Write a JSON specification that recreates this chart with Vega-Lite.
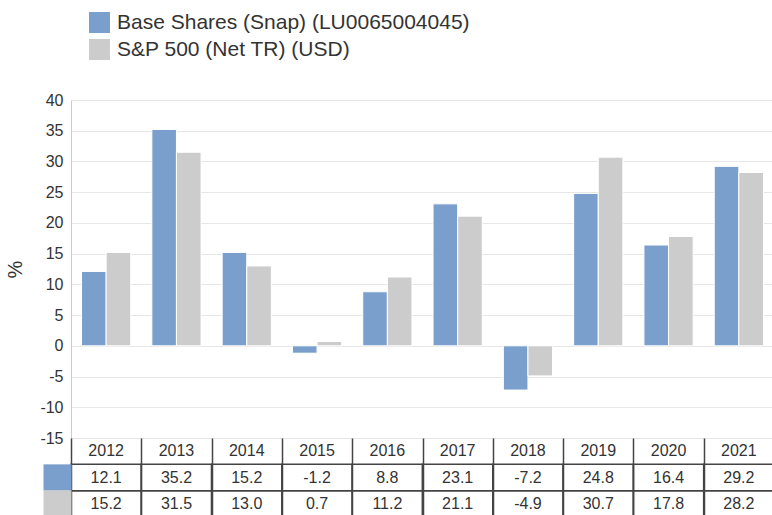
{
  "$schema": "https://vega.github.io/schema/vega-lite/v6.json",
  "padding": {"left": 5, "top": 12, "right": 0, "bottom": 0},
  "background": "white",
  "config": {
    "font": "Liberation Sans",
    "view": {"stroke": null},
    "locale": {"number": {"decimal": ".", "thousands": ",", "grouping": [3], "currency": ["$", ""], "minus": "-"}}
  },
  "spacing": 0,
  "bounds": "flush",
  "resolve": {"scale": {"x": "independent", "y": "independent"}},
  "data": {"values": [
    {"year": "2012", "series": "Base Shares (Snap) (LU0065004045)", "value": 12.1},
    {"year": "2012", "series": "S&P 500 (Net TR) (USD)", "value": 15.2},
    {"year": "2013", "series": "Base Shares (Snap) (LU0065004045)", "value": 35.2},
    {"year": "2013", "series": "S&P 500 (Net TR) (USD)", "value": 31.5},
    {"year": "2014", "series": "Base Shares (Snap) (LU0065004045)", "value": 15.2},
    {"year": "2014", "series": "S&P 500 (Net TR) (USD)", "value": 13.0},
    {"year": "2015", "series": "Base Shares (Snap) (LU0065004045)", "value": -1.2},
    {"year": "2015", "series": "S&P 500 (Net TR) (USD)", "value": 0.7},
    {"year": "2016", "series": "Base Shares (Snap) (LU0065004045)", "value": 8.8},
    {"year": "2016", "series": "S&P 500 (Net TR) (USD)", "value": 11.2},
    {"year": "2017", "series": "Base Shares (Snap) (LU0065004045)", "value": 23.1},
    {"year": "2017", "series": "S&P 500 (Net TR) (USD)", "value": 21.1},
    {"year": "2018", "series": "Base Shares (Snap) (LU0065004045)", "value": -7.2},
    {"year": "2018", "series": "S&P 500 (Net TR) (USD)", "value": -4.9},
    {"year": "2019", "series": "Base Shares (Snap) (LU0065004045)", "value": 24.8},
    {"year": "2019", "series": "S&P 500 (Net TR) (USD)", "value": 30.7},
    {"year": "2020", "series": "Base Shares (Snap) (LU0065004045)", "value": 16.4},
    {"year": "2020", "series": "S&P 500 (Net TR) (USD)", "value": 17.8},
    {"year": "2021", "series": "Base Shares (Snap) (LU0065004045)", "value": 29.2},
    {"year": "2021", "series": "S&P 500 (Net TR) (USD)", "value": 28.2}
  ]},
  "vconcat": [
    {
      "width": 703,
      "height": 338,
      "mark": {"type": "bar", "stroke": "white", "strokeWidth": 1},
      "encoding": {
        "x": {"field": "year", "type": "nominal", "axis": null, "scale": {"paddingInner": 0.3, "paddingOuter": 0.15}},
        "xOffset": {"field": "series", "type": "nominal", "scale": {"domain": ["Base Shares (Snap) (LU0065004045)", "S&P 500 (Net TR) (USD)"], "paddingInner": 0, "paddingOuter": 0}},
        "y": {
          "field": "value", "type": "quantitative",
          "scale": {"domain": [-15, 40], "nice": false, "zero": false},
          "axis": {
            "values": [-15, -10, -5, 0, 5, 10, 15, 20, 25, 30, 35, 40],
            "title": "%", "titleFontSize": 20, "titleFontWeight": "normal", "titleColor": "#333", "titlePadding": 14,
            "labelFontSize": 16, "labelColor": "#333", "labelPadding": 8, "tickSize": 0,
            "domainColor": "#cccccc", "gridColor": "#e6e6e6"
          }
        },
        "color": {
          "field": "series", "type": "nominal",
          "scale": {"domain": ["Base Shares (Snap) (LU0065004045)", "S&P 500 (Net TR) (USD)"], "range": ["#7a9fcc", "#cccccc"]},
          "legend": {
            "orient": "none", "legendX": 18, "legendY": -88, "title": null,
            "symbolType": "square", "symbolSize": 441, "symbolStrokeWidth": 0,
            "labelFontSize": 21, "labelColor": "#333", "rowPadding": 5, "labelOffset": 7, "labelLimit": 0
          }
        }
      }
    },
    {
      "width": 703,
      "height": 79,
      "encoding": {
        "x": {
          "field": "year", "type": "nominal",
          "scale": {"paddingInner": 0, "paddingOuter": 0},
          "axis": {"labels": false, "ticks": false, "domain": false, "grid": true, "tickBand": "extent", "gridColor": "#444444", "gridWidth": 1.5, "title": null}
        }
      },
      "layer": [
        {
          "mark": {"type": "rect", "fill": "transparent", "stroke": "#444444", "strokeWidth": 1.5},
          "encoding": {
            "y": {
              "field": "series", "type": "nominal",
              "scale": {"domain": ["Year", "Base Shares (Snap) (LU0065004045)", "S&P 500 (Net TR) (USD)"], "paddingInner": 0, "paddingOuter": 0},
              "axis": {
                "title": null, "labels": false, "domain": false, "grid": false,
                "ticks": true, "tickSize": 28, "tickWidth": 26.3,
                "tickColor": {
                  "condition": [
                    {"test": "datum.value === 'Base Shares (Snap) (LU0065004045)'", "value": "#7a9fcc"},
                    {"test": "datum.value === 'S&P 500 (Net TR) (USD)'", "value": "#cccccc"}
                  ],
                  "value": "transparent"
                }
              }
            }
          }
        },
        {
          "mark": {"type": "text", "fontSize": 16, "color": "#333333"},
          "encoding": {
            "y": {"field": "series", "type": "nominal"},
            "text": {"field": "value", "type": "quantitative", "format": ".1f"}
          }
        },
        {
          "transform": [{"filter": "datum.series === 'Base Shares (Snap) (LU0065004045)'"}],
          "mark": {"type": "text", "fontSize": 16, "color": "#333333"},
          "encoding": {
            "y": {"datum": "Year", "type": "nominal"},
            "text": {"field": "year", "type": "nominal"}
          }
        }
      ]
    }
  ]
}
